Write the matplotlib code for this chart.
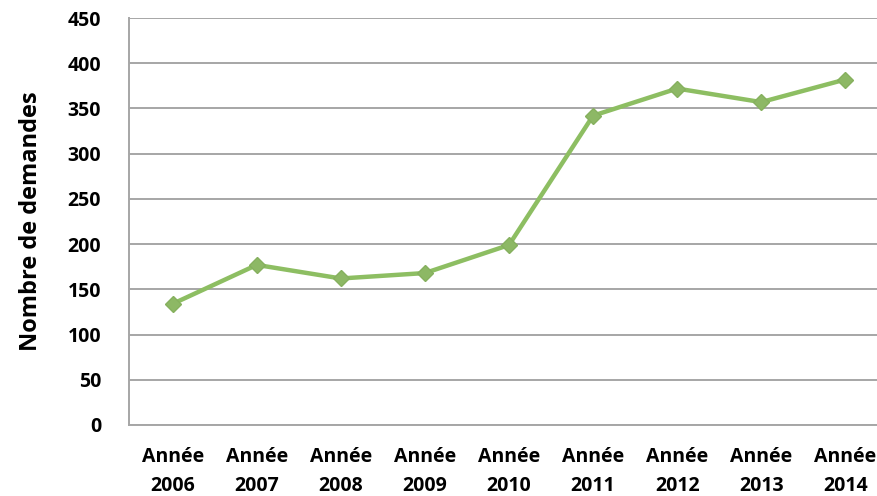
import matplotlib.pyplot as plt

years = ["2006", "2007", "2008", "2009", "2010", "2011", "2012", "2013", "2014"]
demandes = [134, 177, 162, 168, 199, 342, 372, 357, 382]
tick_labels = [f"Année\n{y}" for y in years]

GREEN = "#8DBE62"
GRID = "#A6A6A6"

plt.rcParams["font.family"] = ["Open Sans", "DejaVu Sans"]
plt.rcParams["font.weight"] = "bold"

fig = plt.figure(figsize=(8.77, 4.96), dpi=100)
ax = fig.add_axes([129 / 877, 71 / 496, 760 / 877, 407 / 496])

x = range(len(years))
ax.plot(x, demandes, color=GREEN, linewidth=3.2, marker="D", markersize=8,
        markerfacecolor="#8DB865", markeredgecolor="#86B05E", zorder=3)

ax.set_xlim(-0.52, len(years) - 0.48)
ax.set_ylim(0, 450)
ax.set_yticks(range(0, 451, 50))
ax.set_xticks(list(x))
ax.set_xticklabels(tick_labels, fontweight="bold", fontsize=14, linespacing=1.6)
ax.tick_params(axis="y", labelsize=14, length=0, pad=20)
ax.tick_params(axis="x", length=0, pad=16)
for lab in ax.get_yticklabels():
    lab.set_fontweight("bold")

ax.grid(axis="y", color=GRID, linewidth=1.4)
ax.set_axisbelow(True)
for side in ["top", "right"]:
    ax.spines[side].set_visible(False)
for side in ["left", "bottom"]:
    ax.spines[side].set_color(GRID)
    ax.spines[side].set_linewidth(1.4)

ax.set_ylabel("Nombre de demandes", fontsize=17, fontweight="bold", labelpad=18)

fig.savefig("out.png", dpi=100)
plt.close(fig)
